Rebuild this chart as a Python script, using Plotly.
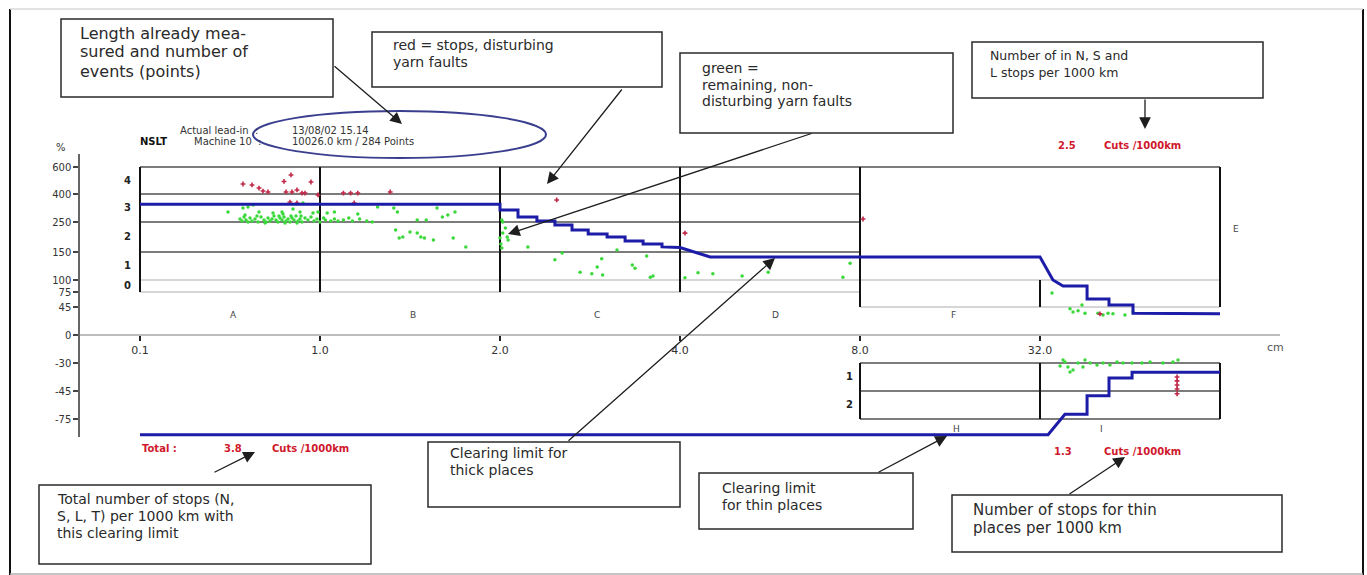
import numpy as np
import plotly.graph_objects as go

# ---------------------------------------------------------------- data ----
# Length classes (cm): class boundaries along the horizontal axis
length_breaks_cm = [0.1, 1.0, 2.0, 4.0, 8.0, 32.0, 128.0]
length_tick_cm = [0.1, 1.0, 2.0, 4.0, 8.0, 32.0]
length_tick_text = ["0.1", "1.0", "2.0", "4.0", "8.0", "32.0"]

# Cross-section deviation (%) shown on the vertical axis
pct_ticks = [600, 400, 250, 150, 100, 75, 45, 0, -30, -45, -75]
pct_tick_text = ["600", "400", "250", "150", "100", "75", "45", "0", "-30", "-45", "-75"]

# Red = cut (disturbing) yarn faults
red_cm = [0.615, 0.66, 0.695, 0.715, 0.74, 0.82, 0.855, 0.955, 0.83, 0.86,
          0.885, 0.91, 0.925, 0.99, 0.85, 0.885, 1.13, 1.17, 1.21, 1.39,
          1.19, 2.63, 4.11, 8.4, 64.0,
          105.1, 105.1, 105.1, 105.1, 105.1]
red_pct = [474, 467, 444, 422, 415, 493, 541, 489, 415, 415,
           430, 407, 407, 395, 357, 352, 407, 407, 407, 415,
           352, 368, 213, 266, 34,
           -37.5, -39.6, -41.8, -43.9, -48.0]

# Green = remaining (non-disturbing) yarn faults
green_cm = [
    # scattered, classes A/B
    0.615, 0.64, 0.665, 0.625, 0.695, 0.765, 0.81, 0.865, 0.90, 0.915,
    0.965, 0.99, 1.04, 1.08, 1.21, 1.32, 1.41, 1.43, 1.65, 1.71, 1.75, 1.68, 0.54,
    # dense band, class A
    0.60, 0.61, 0.62, 0.63, 0.64, 0.65, 0.66, 0.675, 0.69, 0.705,
    0.72, 0.73, 0.74, 0.75, 0.76, 0.77, 0.78, 0.79, 0.80, 0.81,
    0.82, 0.83, 0.84, 0.85, 0.86, 0.87, 0.88, 0.89, 0.90, 0.91,
    0.925, 0.94, 0.955, 0.97, 0.985, 1.0, 1.02, 1.03, 1.06, 1.08,
    1.10, 1.13, 1.16, 1.18, 1.22, 1.26, 1.29, 1.54, 1.59,
    0.795, 0.825, 0.855, 0.885, 0.815, 0.725, 0.685, 0.905,
    # class B, lower rows
    1.42, 1.46, 1.50, 1.54, 1.58, 1.63, 1.74, 1.81, 1.44, 1.56,
    # start of class C
    2.02, 2.06, 2.03, 2.0, 2.08, 2.02, 2.09, 2.03, 2.01,
    # class C
    2.31, 2.61, 2.69, 2.89, 3.02, 3.08, 3.13, 3.14, 3.30, 3.47,
    3.50, 3.63, 3.67, 3.70,
    # class D
    4.11, 4.40, 4.73, 5.38, 5.96, 7.62, 7.78,
    # class E (long thick places)
    38.4, 48.0, 49.6, 54.4, 56.0, 62.9, 65.6, 68.3, 70.9, 77.3, 81.6, 52.3,
    # class I (long thin places)
    45.3, 46.9, 49.6, 52.3, 54.9, 58.7, 62.4, 65.6, 69.3, 73.1,
    76.3, 81.1, 86.4, 90.7, 97.6, 102.9, 105.6, 48.0, 44.3, 56.0, 42.7,
]
green_pct = [
    325, 330, 341, 287, 304, 298, 304, 320, 304, 352,
    298, 304, 298, 304, 293, 330, 325, 304, 325, 287, 304, 277, 304,
    266, 255, 277, 261, 250, 271, 255, 266, 250, 277,
    261, 250, 271, 255, 266, 282, 261, 250, 271, 261,
    277, 255, 266, 250, 271, 261, 282, 255, 266, 250,
    271, 261, 277, 255, 266, 250, 271, 261, 255, 266,
    255, 261, 271, 255, 266, 255, 250, 261, 261,
    282, 247, 282, 247, 293, 247, 282, 282,
    223, 200, 217, 213, 197, 190, 197, 167, 197, 200,
    261, 230, 213, 197, 200, 163, 190, 250, 177,
    167, 136, 148, 114, 111, 123, 138, 109, 157, 127,
    121, 143, 105, 107,
    104, 113, 111, 107, 114, 105, 130,
    73, 42, 37, 49, 35, 35, 32, 35, 34, 32, 37, 39,
    -28.9, -32.1, -33.8, -30.0, -32.1, -30.0, -31.1, -30.0, -31.1, -28.9,
    -30.0, -30.0, -30.0, -28.9, -30.0, -28.9, -26.8, -34.8, -26.8, -26.8, -31.6,
]

# Clearing limit for thick places (N, S, L) and for thin places (T)
thick_limit_cm = [0.1, 2.0, 2.0, 2.2, 2.2, 2.41, 2.41, 2.61, 2.61, 2.8, 2.8,
                  2.98, 2.98, 3.19, 3.19, 3.39, 3.39, 3.59, 3.59, 3.8, 3.8,
                  4.0, 4.67, 32.0, 38.9, 44.3, 57.1, 57.1, 68.8, 68.8,
                  81.6, 81.6, 128.0]
thick_limit_pct = [345, 345, 314, 314, 277, 277, 255, 255, 240, 240, 223,
                   223, 210, 210, 200, 200, 187, 187, 177, 177, 167,
                   165, 141, 141, 100, 87.5, 87.5, 61, 61, 49,
                   49, 35, 34]
thin_limit_cm = [0.1, 36.3, 45.3, 57.1, 57.1, 68.8, 68.8, 81.1, 81.1, 128.0]
thin_limit_pct = [-89, -89, -70, -70, -50, -50, -38, -38, -35, -35]

# Summary figures
cuts_nsl = 2.5
cuts_total = 3.8
cuts_thin = 1.3
report_time = "13/08/02 15.14"
machine_text = "Machine 10"
length_km = 10026.0
n_points = 284

# --------------------------------------------------------------- scales ---
W, H = 1367, 575
SCALE_PCT = [-100, -75, -45, -30, 0, 45, 75, 100, 150, 250, 400, 600]
SCALE_ROW = [447, 419, 391, 363, 335, 307, 292, 280, 252, 222, 194, 167]


def class_pos(cm):
    return np.interp(cm, length_breaks_cm, np.arange(len(length_breaks_cm)))


def level(pct):
    return np.interp(pct, SCALE_PCT, SCALE_ROW)


def xp(px):
    return px / W


def yp(py):
    return 1 - py / H


FONT = "DejaVu Sans"
RED_TXT = "#d0182c"

fig = go.Figure()

# --------------------------------------------------------------- traces ---
fig.add_trace(go.Scatter(
    x=class_pos(green_cm), y=level(green_pct), mode="markers",
    marker=dict(symbol="circle", size=3.5, color="#3ad83a", line=dict(width=0)),
    hoverinfo="skip", showlegend=False))
fig.add_trace(go.Scatter(
    x=class_pos(red_cm), y=level(red_pct), mode="markers",
    marker=dict(symbol="cross", size=4, color="#c02848", line=dict(width=0)),
    hoverinfo="skip", showlegend=False))
fig.add_trace(go.Scatter(
    x=class_pos(thick_limit_cm), y=level(thick_limit_pct), mode="lines",
    line=dict(color="#1c1ca8", width=3), hoverinfo="skip", showlegend=False))
fig.add_trace(go.Scatter(
    x=class_pos(thin_limit_cm), y=level(thin_limit_pct), mode="lines",
    line=dict(color="#1c1ca8", width=3), hoverinfo="skip", showlegend=False))

# ------------------------------------------------------- class grid -------
shapes = []


def seg(c0, p0, c1, p1, color, width, layer="below"):
    shapes.append(dict(type="line", xref="x", yref="y",
                       x0=float(class_pos(c0)), x1=float(class_pos(c1)),
                       y0=float(level(p0)), y1=float(level(p1)),
                       line=dict(color=color, width=width), layer=layer))


DARK, LIGHT, BLACK = "#505050", "#c8c8c8", "#111111"
# thick-place classes A-D
for p in (400, 250, 150):
    seg(0.1, p, 8.0, p, DARK, 1.5)
for p in (100, 75):
    seg(0.1, p, 8.0, p, LIGHT, 1.5)
seg(0.1, 600, 128.0, 600, DARK, 1.5)
for c in (0.1, 1.0, 2.0, 4.0):
    seg(c, 600, c, 75, BLACK, 2)
# long thick places F / E
seg(8.0, 100, 128.0, 100, LIGHT, 1.5)
seg(8.0, 45, 128.0, 45, LIGHT, 1.5)
seg(8.0, 600, 8.0, 45, BLACK, 2)
seg(128.0, 600, 128.0, 45, BLACK, 2)
seg(32.0, 100, 32.0, 45, BLACK, 2)
# thin places H / I
for p in (-30, -45, -75):
    seg(8.0, p, 128.0, p, DARK, 1.5)
for c in (8.0, 32.0, 128.0):
    seg(c, -30, c, -75, BLACK, 2)

# outer frame of the sheet
for (x0, y0, x1, y1, col, w) in [(10, 9, 10, 575, BLACK, 2), (1363, 9, 1363, 575, BLACK, 2),
                                  (10, 9, 1363, 9, "#d8d8d8", 1.5), (10, 574, 1363, 574, "#b0b0b0", 1.5)]:
    shapes.append(dict(type="line", xref="paper", yref="paper",
                       x0=xp(x0), x1=xp(x1), y0=yp(y0), y1=yp(y1),
                       line=dict(color=col, width=w), layer="above"))

# callout boxes
boxes = [(61, 19, 333, 97), (372, 32, 662, 87), (680, 53, 953, 133), (972, 42, 1263, 98),
         (39, 485, 371, 564), (428, 442, 680, 507), (699, 473, 913, 529), (952, 495, 1282, 552)]
for (x0, y0, x1, y1) in boxes:
    shapes.append(dict(type="rect", xref="paper", yref="paper",
                       x0=xp(x0), x1=xp(x1), y0=yp(y1), y1=yp(y0),
                       line=dict(color="#2a2a2a", width=1.5), fillcolor="rgba(0,0,0,0)",
                       layer="above"))

# ellipse around the header information
shapes.append(dict(type="circle", xref="paper", yref="paper",
                   x0=xp(253), x1=xp(546), y0=yp(158), y1=yp(111),
                   line=dict(color="#3a3e8e", width=2), layer="above"))

# ------------------------------------------------------------ texts ------
ann = []


def txt(x, y, s, size=16, color="#222222", anchor="left", bold=False, xref="paper", yref="paper"):
    ann.append(dict(x=x if xref != "paper" else xp(x), y=y if yref != "paper" else yp(y),
                    xref=xref, yref=yref, text=f"<b>{s}</b>" if bold else s,
                    showarrow=False, xanchor=anchor, yanchor="middle",
                    font=dict(family=FONT, size=size, color=color)))


def arrow(tail, tip):
    ann.append(dict(x=xp(tip[0]), y=yp(tip[1]), xref="paper", yref="paper",
                    ax=tail[0] - tip[0], ay=tail[1] - tip[1], axref="pixel", ayref="pixel",
                    text="", showarrow=True, arrowhead=2, arrowsize=1.8,
                    arrowwidth=1.3, arrowcolor="#1e1e1e", standoff=0, startstandoff=0))


# callout texts
for (x, y, s, fs) in [
    (78, 33, "Length already mea-", 16), (78, 52, "sured and number of", 16), (78, 71, "events (points)", 16),
    (391, 45, "red = stops, disturbing", 14), (391, 62, "yarn faults", 14),
    (700, 68, "green =", 14), (700, 85, "remaining, non-", 14), (700, 101, "disturbing yarn faults", 14),
    (988, 56, "Number of in N, S and", 12.5), (988, 72, "L stops per 1000 km", 12.5),
    (55, 499, "Total number of stops (N,", 14), (55, 516, "S, L, T) per 1000 km with", 14),
    (55, 533, "this clearing limit", 14),
    (448, 453, "Clearing limit for", 14), (448, 470, "thick places", 14),
    (720, 488, "Clearing limit", 14), (720, 505, "for thin places", 14),
    (971, 510, "Number of stops for thin", 15), (971, 528, "places per 1000 km", 15),
]:
    txt(x, y, s, size=fs, color="#2a2a2a")

# header information
txt(178, 130, "Actual lead-in  :", size=10, color="#333333")
txt(290, 130, report_time, size=10, color="#333333")
txt(138, 142, "NSLT", size=10, color="#111111", bold=True)
txt(192, 142, f"{machine_text}  :", size=10, color="#333333")
txt(290, 142, f"{length_km:.1f} km / {n_points} Points", size=10, color="#333333")

# cut rates
txt(1056, 146, f"{cuts_nsl:.1f}", size=10, color=RED_TXT, bold=True)
txt(1102, 146, "Cuts /1000km", size=10, color=RED_TXT, bold=True)
txt(140, 448, "Total :", size=10, color=RED_TXT, bold=True)
txt(222, 448, f"{cuts_total:.1f}", size=10, color=RED_TXT, bold=True)
txt(270, 448, "Cuts /1000km", size=10, color=RED_TXT, bold=True)
txt(1052, 451, f"{cuts_thin:.1f}", size=10, color=RED_TXT, bold=True)
txt(1102, 451, "Cuts /1000km", size=10, color=RED_TXT, bold=True)

# axis annotations
txt(61, 147, "%", size=10, color="#333333", anchor="center")
txt(1275, 347, "cm", size=11, color="#555555", anchor="center")

# class letters
for (x, y, s) in [(233, 315, "A"), (413, 315, "B"), (597, 315, "C"), (775, 315, "D"),
                  (953, 315, "F"), (1236, 229, "E"), (957, 429, "H"), (1101, 429, "I")]:
    txt(x, y, s, size=9, color="#444444", anchor="center")

# amplitude rows of the class grid
for (p_hi, p_lo, s) in [(600, 400, "4"), (400, 250, "3"), (250, 150, "2"), (150, 100, "1"), (100, 75, "0")]:
    ann.append(dict(x=xp(127), y=float((level(p_hi) + level(p_lo)) / 2), xref="paper", yref="y",
                    text=f"<b>{s}</b>", showarrow=False, xanchor="center", yanchor="middle",
                    font=dict(family=FONT, size=10, color="#222222")))
for (p_hi, p_lo, s) in [(-30, -45, "1"), (-45, -75, "2")]:
    ann.append(dict(x=xp(849), y=float((level(p_hi) + level(p_lo)) / 2), xref="paper", yref="y",
                    text=f"<b>{s}</b>", showarrow=False, xanchor="center", yanchor="middle",
                    font=dict(family=FONT, size=10, color="#222222")))

# callout arrows
arrow((333, 65), (402, 124))
arrow((623, 88), (547, 184))
arrow((813, 133), (508, 234))
arrow((1145, 98), (1145, 129))
arrow((567, 442), (775, 258))
arrow((877, 473), (947, 436))
arrow((1068, 495), (1125, 457))
arrow((213, 473), (255, 452))

# --------------------------------------------------------------- layout ---
fig.update_layout(
    width=W, height=H, autosize=False,
    margin=dict(l=0, r=0, t=0, b=0),
    paper_bgcolor="white", plot_bgcolor="white",
    showlegend=False,
    shapes=shapes, annotations=ann,
    xaxis=dict(
        domain=[xp(80), xp(1280)], range=[-1 / 3, 19 / 3],
        anchor="free", position=yp(335),
        tickmode="array", tickvals=class_pos(length_tick_cm), ticktext=length_tick_text,
        ticks="outside", ticklen=5, tickwidth=2, tickcolor="#222222",
        showline=True, linecolor="#bdbdbd", linewidth=1.5,
        showgrid=False, zeroline=False,
        tickfont=dict(family=FONT, size=11, color="#333333"),
    ),
    yaxis=dict(
        domain=[yp(437), yp(154)], range=[437, 154],
        anchor="x",
        tickmode="array", tickvals=level(pct_ticks), ticktext=pct_tick_text,
        ticks="outside", ticklen=5, tickwidth=1.5, tickcolor="#444444",
        showline=True, linecolor="#666666", linewidth=1.5,
        showgrid=False, zeroline=False,
        tickfont=dict(family=FONT, size=10, color="#333333"),
    ),
)

fig.write_html("out.html")
